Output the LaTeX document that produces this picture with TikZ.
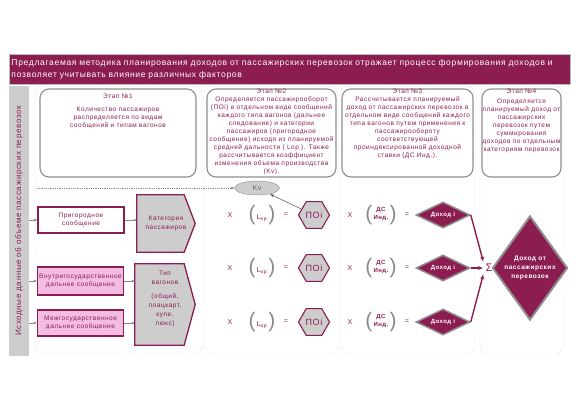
\documentclass[tikz,border=0pt]{standalone}
\usepackage{fontspec}
\setmainfont{Liberation Sans}[LetterSpace=8]
\usetikzlibrary{shapes.geometric, arrows.meta, backgrounds}

\definecolor{wine}{HTML}{8C1D51}
\definecolor{boxgray}{HTML}{8E8E8E}
\definecolor{fillgray}{HTML}{CDCDCD}
\definecolor{pinkfill}{HTML}{F3BCE3}
\definecolor{framepink}{HTML}{D9ADCB}
\definecolor{arrowgray}{HTML}{8A8A8A}

\newcommand{\bigparen}[1]{\textcolor{arrowgray}{\fontsize{21}{21}\selectfont #1}}

\begin{document}
\begin{tikzpicture}[x=1pt, y=-1pt,
    banner/.style={rectangle, fill=wine, draw=boxgray!60, text=white, inner sep=0pt,
                   minimum width=561pt, minimum height=30pt, text width=556pt, align=left,
                   font=\fontsize{8.5}{12.5}\selectfont},
    srcbar/.style={rectangle, fill=fillgray, inner sep=0pt, minimum width=20pt, minimum height=270pt},
    frame/.style={draw=framepink, densely dotted, rounded corners=8pt},
    stagebox/.style={rectangle, draw=boxgray, line width=1.1pt, rounded corners=9pt,
                     minimum height=88pt, inner sep=0pt},
    stagetext/.style={anchor=north, inner sep=0pt, align=center, text=wine,
                      font=\fontsize{6.5}{8}\selectfont},
    kind/.style={rectangle, draw=wine, line width=1.3pt, inner sep=0pt, minimum width=86pt,
                 align=center, text=wine, font=\fontsize{6.5}{8.5}\selectfont},
    wagon/.style={rectangle, inner sep=0pt, align=center, text=wine,
                  font=\fontsize{6.5}{9}\selectfont},
    wagonline/.style={draw=wine, line width=1.3pt, fill=fillgray},
    optext/.style={inner sep=0pt, text=wine, font=\fontsize{7}{8}\selectfont},
    hexa/.style={regular polygon, regular polygon sides=6, minimum size=31pt, inner sep=0pt,
                 draw=wine, line width=1.1pt, fill=fillgray, text=wine,
                 font=\fontsize{9}{9}\selectfont},
    dohod/.style={diamond, aspect=2, minimum width=54pt, minimum height=26pt, inner sep=0pt,
                  draw=boxgray, line width=1.5pt, fill=wine, text=white,
                  font=\bfseries\fontsize{6}{7}\selectfont},
    total/.style={diamond, minimum width=64pt, minimum height=104pt, inner sep=0pt,
                  draw=boxgray, line width=2pt, fill=wine, text=white, align=center,
                  font=\bfseries\fontsize{6.5}{9}\selectfont},
    grayarrow/.style={draw=arrowgray, line width=0.9pt, -{Latex[length=3pt,width=3pt]}},
    sumarrow/.style={draw=wine, line width=1.4pt, -{Latex[length=5pt,width=4pt]}}]

\useasboundingbox (0,0) rectangle (576,400);
\begin{scope}[on background layer]
  \fill[white] (0,0) rectangle (576,400);
\end{scope}

\node[banner] (title) at (289.5,69.5)
  {Предлагаемая методика планирования доходов от пассажирских перевозок отражает процесс формирования доходов и\\
   позволяет учитывать влияние различных факторов};

% source data bar
\node[srcbar] (src) at (19,221) {};
\node[rotate=90, text=wine, font=\fontsize{8}{8}\selectfont] at (src) {Исходные данные об объеме пассажирских перевозок};

% stage columns
\draw[frame] (35,86) rectangle (202,354);
\draw[frame] (204,86) rectangle (338,354);
\draw[frame] (340,86) rectangle (475,354);
\draw[frame] (480,86) rectangle (563,354);

\node[stagebox, minimum width=156pt] (h1) at (118,133) {};
\node[stagebox, minimum width=129pt] (h2) at (271.5,133) {};
\node[stagebox, minimum width=131pt] (h3) at (407.5,133) {};
\node[stagebox, minimum width=79pt] (h4) at (521.5,133) {};

\node[stagetext] (t1) at (118,94) {Этап №1\\[5pt]Количество пассажиров\\распределяется по видам\\сообщений и типам вагонов};
\node[stagetext] (t2) at (271.5,88.5) {Этап №2\\Определяется пассажирооборот\\(ПОi) в отдельном виде сообщений\\каждого типа вагонов (дальнее\\следование) и категории\\пассажиров (пригородное\\сообщение) исходя из планируемой\\средней дальности ( Lop ). Также\\рассчитывается коэффициент\\изменения объема производства\\(Kv).};
\node[stagetext] (t3) at (407.5,88.5) {Этап №3\\Рассчитывается планируемый\\доход от пассажирских перевозок в\\отдельном виде сообщений каждого\\типа вагонов путем применения к\\пассажирообороту\\соответствующей\\проиндексированной доходной\\ставки (ДС Инд.).};
\node[stagetext] (t4) at (521.5,88.5) {Этап №4\\[2pt]Определяется\\планируемый доход от\\пассажирских\\перевозок путем\\суммирования\\доходов по отдельным\\категориям перевозок};

% stage 1: kinds of service
\node[kind, fill=white, minimum height=26pt] (prig) at (81,220) {Пригородное\\сообщение};
\node[kind, fill=pinkfill, minimum height=28pt] (vnut) at (80.5,281) {Внутригосударственное\\дальнее сообщение};
\node[kind, fill=pinkfill, minimum height=26pt] (mezh) at (80.5,323) {Межгосударственное\\дальнее сообщение};
\node[wagon, minimum width=58pt, minimum height=57pt] (cat) at (166,223.5) {Категория\\пассажиров};
\node[wagon, minimum width=60pt, minimum height=81pt] (tip) at (165,304.5) {Тип\\вагонов\\[5pt](общий,\\плацкарт,\\купе,\\люкс)\\[3pt]};

\begin{scope}[on background layer]
  \foreach \w in {cat, tip}
    \filldraw[wagonline] (\w.north west) -- ([xshift=-11pt]\w.north east) -- (\w.east)
      -- ([xshift=-11pt]\w.south east) -- (\w.south west) -- cycle;
\end{scope}

\draw[grayarrow] (src.east |- prig.west) -- (prig.west);
\draw[grayarrow] (src.east |- vnut.west) -- (vnut.west);
\draw[grayarrow] (src.east |- mezh.west) -- (mezh.west);
\draw[grayarrow] (prig.east) -- (prig.east -| cat.west);
\draw[grayarrow] (vnut.east) -- (vnut.east -| tip.west);
\draw[grayarrow] (mezh.east) -- (mezh.east -| tip.west);

% stages 2 and 3: formulas
\node[ellipse, minimum width=45pt, minimum height=14pt, inner sep=0pt, draw=boxgray, fill=fillgray,
      text=boxgray!70!black, font=\fontsize{7}{7}\selectfont] (kv) at (257,188) {Kv};
\coordinate (kvfrom) at (37,188);

\foreach \r/\y in {1/215, 2/268, 3/322} {
  \node[optext] (xa\r) at (230,\y) {X};
  \node[optext] (lop\r) at (262,\y) {\bigparen{(}\,\raisebox{1pt}{L\textsubscript{op}}\,\bigparen{)}};
  \node[optext] (eqa\r) at (286,\y) {=};
  \node[hexa] (po\r) at (314,\y) {ПОi};
  \node[optext] (xb\r) at (350,\y) {X};
  \node[optext] (ds\r) at (381,\y) {\bigparen{(}\,\raisebox{1pt}{\bfseries\fontsize{6}{6.5}\selectfont\shortstack{ДС\\Инд.}}\,\bigparen{)}};
  \node[optext] (eqb\r) at (407,\y) {=};
  \node[dohod] (d\r) at (443,\y) {Доход i};
}

\draw[draw=arrowgray, densely dotted, line width=0.8pt, -{Latex[length=3pt,width=3pt]}] (kvfrom) -- (kv.west);
\draw[draw=boxgray!70!black, line width=0.6pt, -{Latex[length=4pt,width=3pt]}] (po1) -- (kv);

% stage 4: summation
\node[text=wine, font=\fontsize{11}{11}\selectfont, inner sep=2pt] (sum) at (489,268) {Σ};
\node[total] (inc) at (530,268) {Доход от\\пассажирских\\перевозок};

\draw[sumarrow] (d1.east) -- (sum.north west);
\draw[sumarrow] (d2.east) -- (sum.west);
\draw[sumarrow] (d3.east) -- (sum.south west);
\end{tikzpicture}
\end{document}
